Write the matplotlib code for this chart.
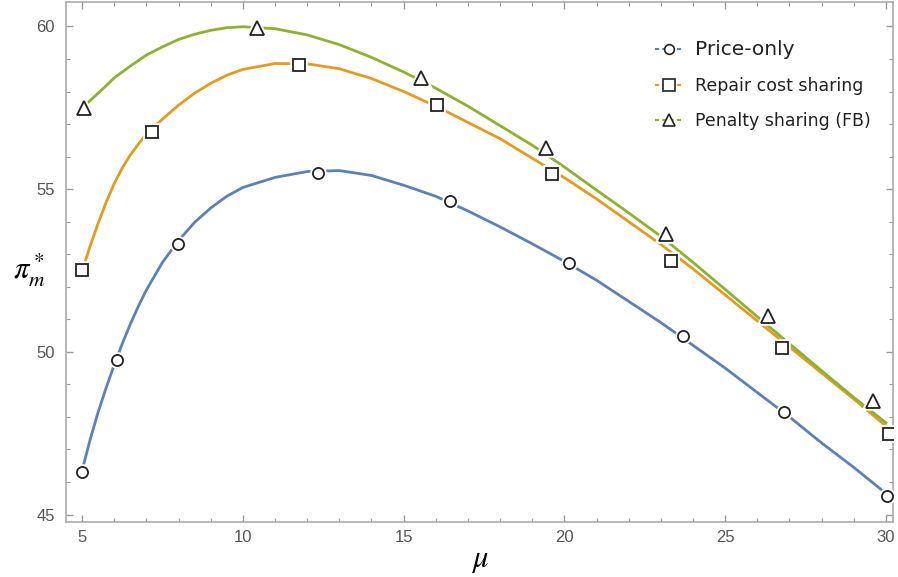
import matplotlib
matplotlib.use('Agg')
import matplotlib.pyplot as plt
from matplotlib.lines import Line2D
from matplotlib.ticker import MultipleLocator

# curve values
mu = [5, 5.25, 5.5, 5.75, 6, 6.25, 6.5, 6.75, 7, 7.5, 8, 8.5, 9, 9.5, 10,
      11, 12, 13, 14, 15, 16, 17, 18, 19, 20, 21, 22, 23, 24, 25, 26, 27, 28, 29, 30]
price_only = [46.35, 47.3, 48.15, 48.9, 49.6, 50.25, 50.85, 51.4, 51.9, 52.75, 53.42,
              53.98, 54.42, 54.78, 55.05,
              55.36, 55.54, 55.57, 55.42, 55.12, 54.78, 54.33, 53.84, 53.32, 52.78,
              52.2, 51.55, 50.9, 50.2, 49.5, 48.75, 48.0, 47.2, 46.45, 45.65]
repair_cost = [52.47, 53.25, 53.95, 54.6, 55.17, 55.65, 56.05, 56.38, 56.7, 57.15, 57.58,
               57.95, 58.25, 58.5, 58.68,
               58.86, 58.85, 58.7, 58.4, 58.0, 57.55, 57.05, 56.55, 55.95, 55.35,
               54.7, 54.0, 53.3, 52.55, 51.75, 50.95, 50.15, 49.35, 48.55, 47.72]
penalty = [57.5, 57.72, 57.95, 58.18, 58.42, 58.6, 58.78, 58.95, 59.12, 59.37, 59.6,
           59.76, 59.88, 59.96, 59.99,
           59.93, 59.74, 59.44, 59.05, 58.6, 58.1, 57.55, 56.95, 56.35, 55.68,
           54.97, 54.27, 53.55, 52.75, 51.92, 51.08, 50.25, 49.42, 48.6, 47.82]

# marker positions
mu_circ = [5.0, 6.09, 7.99, 12.34, 16.44, 20.14, 23.69, 26.83, 30.03]
v_circ = [46.31, 49.75, 53.32, 55.51, 54.62, 52.74, 50.49, 48.15, 45.57]
mu_sq = [5.0, 7.18, 11.75, 16.04, 19.62, 23.31, 26.77, 30.09]
v_sq = [52.52, 56.77, 58.8, 57.6, 55.48, 52.8, 50.12, 47.48]
mu_tri = [5.06, 10.44, 15.54, 19.43, 23.16, 26.33, 29.6]
v_tri = [57.5, 59.94, 58.43, 56.25, 53.63, 51.11, 48.49]

labels = ['Price-only', 'Repair cost sharing', 'Penalty sharing (FB)']
colors = ['#5E81B5', '#E19C24', '#8FB032']

plt.rcParams['font.family'] = ['Liberation Sans', 'DejaVu Sans']
plt.rcParams['mathtext.fontset'] = 'stix'

fig = plt.figure(figsize=(8.98, 5.77), dpi=100)
ax = fig.add_axes([0.0735, 0.0953, 0.9209, 0.9012])

series = [(price_only, mu_circ, v_circ, 'o', 8),
          (repair_cost, mu_sq, v_sq, 's', 9),
          (penalty, mu_tri, v_tri, '^', 10)]
for (vals, mx, my, m, ms), c in zip(series, colors):
    ax.plot(mu, vals, color=c, lw=2, zorder=2)
    # white halo so the curve breaks around the marker
    ax.plot(mx, my, ls='none', marker=m, ms=ms, mfc='white', mec='white',
            mew=4, zorder=3)
    ax.plot(mx, my, ls='none', marker=m, ms=ms, mfc='white', mec='#222222',
            mew=1.3, zorder=4)

ax.set_xlim(4.5, 30.22)
ax.set_ylim(44.77, 60.75)
ax.xaxis.set_major_locator(MultipleLocator(5))
ax.xaxis.set_minor_locator(MultipleLocator(1))
ax.yaxis.set_major_locator(MultipleLocator(5))
ax.yaxis.set_minor_locator(MultipleLocator(1))
ax.tick_params(which='both', direction='in', top=True, right=True, color='#999999')
ax.tick_params(which='major', length=5, width=1, labelsize=12, labelcolor='#555555', pad=8)
ax.tick_params(which='minor', length=3, width=0.8)
ax.tick_params(axis='x', pad=6)
for s in ax.spines.values():
    s.set_color('#aaaaaa')
    s.set_linewidth(1.2)

ax.set_xlabel(r'$\mu$', fontsize=22, labelpad=0)
ax.text(-0.044, 0.485, r'$\pi_m^*$', transform=ax.transAxes, fontsize=22,
        ha='center', va='center')

handles = [Line2D([], [], color=c, lw=1.5, ls=(0, (2, 1.5)), marker=m, ms=ms - 1,
                  mfc='white', mec='#222222', mew=1.2)
           for (_, _, _, m, ms), c in zip(series, colors)]
leg = ax.legend(handles, labels, loc='upper left', bbox_to_anchor=(0.7294, 0.93),
                bbox_transform=fig.transFigure, frameon=False, borderpad=0,
                borderaxespad=0, handlelength=1.6, labelspacing=1.0,
                handletextpad=0.7, prop={'family': 'DejaVu Sans', 'size': 12.5})
for t in leg.get_texts():
    t.set_color('#222222')
leg.get_texts()[0].set_fontsize(14.5)

fig.savefig('out.png', dpi=100)
